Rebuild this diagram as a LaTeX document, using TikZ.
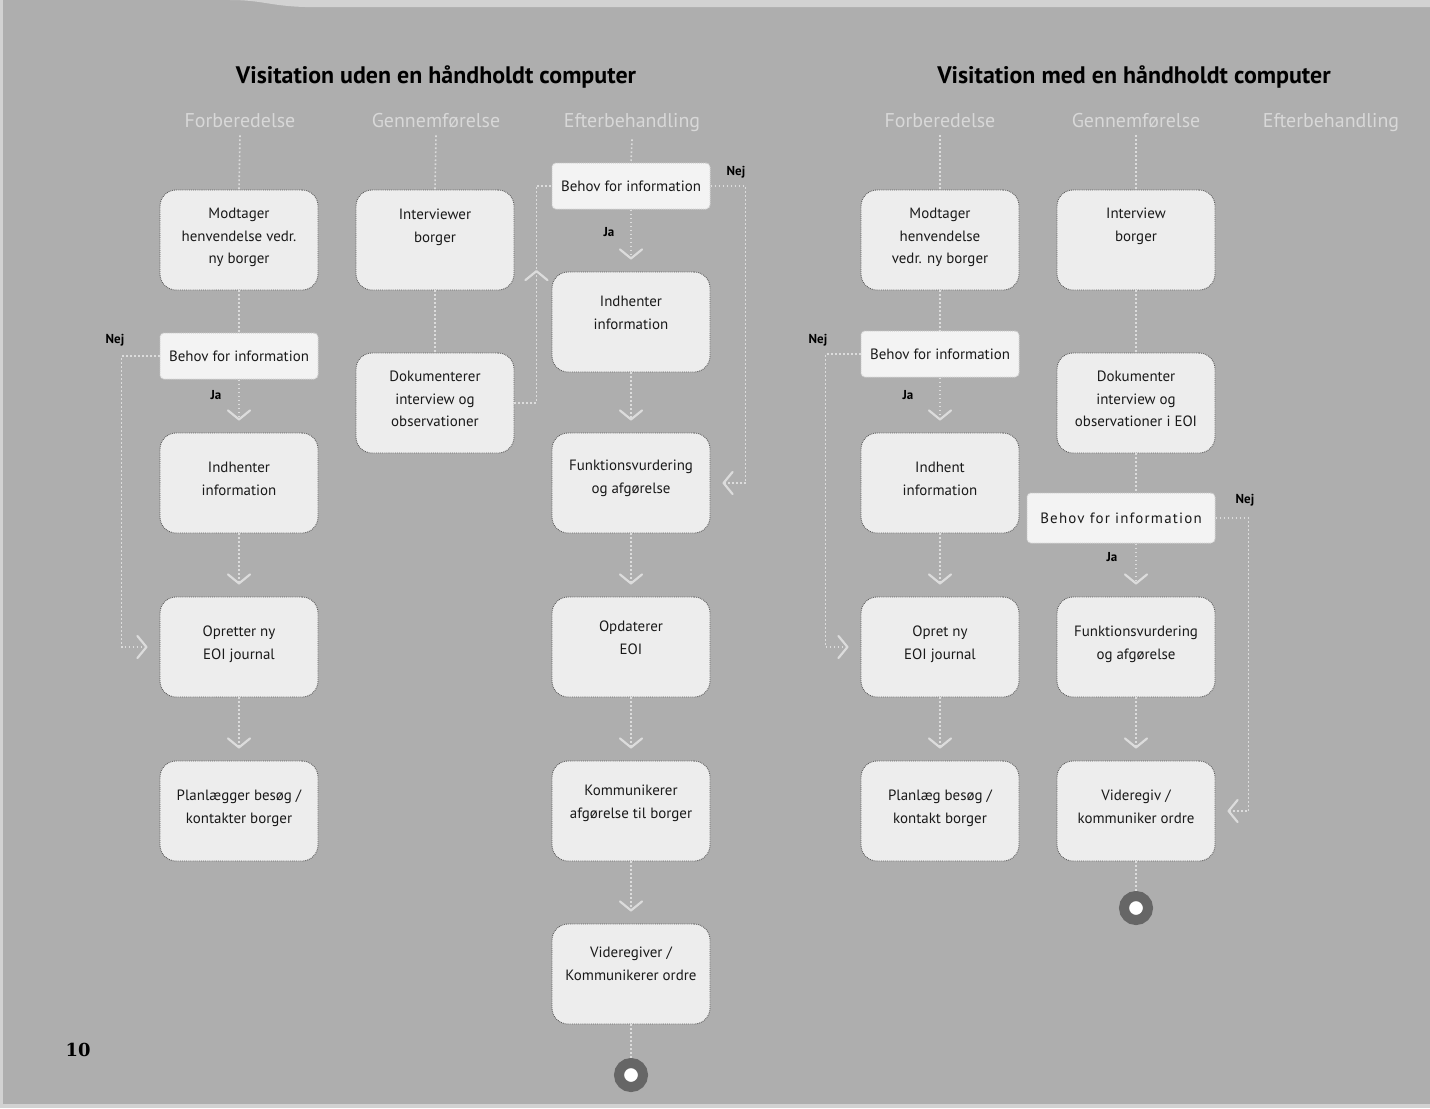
\documentclass[tikz,border=0pt]{standalone}
\usepackage{fontspec}
\setmainfont{PT Sans}
\newfontfamily\numfont{DejaVu Serif}
\usetikzlibrary{arrows.meta,decorations.markings}

\definecolor{pagebg}{HTML}{AEAEAE}
\definecolor{pageedge}{HTML}{D2D2D2}
\definecolor{boxfill}{HTML}{EDEDED}
\definecolor{boxedge}{HTML}{5E5E5E}
\definecolor{askfill}{HTML}{F3F3F3}
\definecolor{askedge}{HTML}{D0D0D0}
\definecolor{linkc}{HTML}{DCDCDC}
\definecolor{headc}{HTML}{D8D8D8}
\definecolor{ringc}{HTML}{666666}

% box text: a centred block, lifted by #1 inside its box
\newcommand\inbox[2]{\raisebox{#1}[0pt][0pt]{\begin{tabular}{@{}c@{}}#2\end{tabular}}}

\tikzset{
  act/.style={draw=boxedge, densely dotted, line width=0.9bp, fill=boxfill,
    rounded corners=16bp, minimum width=158bp, minimum height=100bp,
    inner sep=0pt, text=black!90, font=\fontsize{15}{23}\selectfont},
  ask/.style={draw=askedge, densely dotted, line width=1bp, fill=askfill,
    rounded corners=4bp, minimum width=158bp, minimum height=46bp,
    inner sep=0pt, text=black!90, font=\fontsize{15}{18}\selectfont},
  phase/.style={text=headc, font=\fontsize{20}{24}\selectfont, inner sep=0pt, anchor=base},
  heading/.style={text=black, font=\fontsize{24}{28}\selectfont\bfseries, inner sep=0pt},
  yn/.style={text=black, font=\fontsize{13}{15}\selectfont\bfseries, inner sep=0pt},
  link/.style={draw=linkc, line width=1.6bp, dash pattern=on 1.6bp off 2.4bp},
  chev/.style={-{Straight Barb[length=9bp,width=22bp,line width=2.2bp,round]}},
  linkarr/.style={link, chev, shorten >=12bp},
  midchev/.style={postaction={decorate, decoration={markings,
    mark=at position #1 with {\arrow[linkc]{Straight Barb[length=9bp,width=22bp,line width=2.2bp,round]}}}}},
  endmark/.style={circle, minimum size=24bp, inner sep=0pt, fill=white,
    draw=ringc, line width=10bp},
}

\begin{document}
\begin{tikzpicture}[x=1bp, y=-1bp]
% page
\fill[pagebg] (0,0) rectangle (1430,1108);
\useasboundingbox (0,0) rectangle (1430,1108);
\fill[pageedge] (0,0) rectangle (3,1108);
\fill[pageedge] (0,1104) rectangle (1430,1108);
\fill[pageedge] (230,0) .. controls (262,0) and (270,6) .. (305,7) -- (1430,7) -- (1430,0) -- cycle;

% ---------- without a handheld computer ----------
\node[heading] (t1) at (436,77) {Visitation uden en håndholdt computer};
\node[phase] (hF1) at (240,127) {Forberedelse};
\node[phase] (hG1) at (436,127) {Gennemførelse};
\node[phase] (hE1) at (632,127) {Efterbehandling};

\node[act] (m1)  at (239,240) {\inbox{0bp}{Modtager\\henvendelse vedr.\\ny borger}};
\node[ask] (q1)  at (239,356) {Behov for information};
\node[act] (i1)  at (239,483) {\inbox{0bp}{Indhenter\\information}};
\node[act] (o1)  at (239,647) {\inbox{0bp}{Opretter ny\\EOI journal}};
\node[act] (p1)  at (239,811) {\inbox{0bp}{Planlægger besøg /\\kontakter borger}};

\node[act] (iv1) at (435,240) {\inbox{10bp}{Interviewer\\borger}};
\node[act] (d1)  at (435,403) {\inbox{0bp}{Dokumenterer\\interview og\\observationer}};

\node[ask] (q3)  at (631,186) {Behov for information};
\node[act] (i3)  at (631,322) {\inbox{5bp}{Indhenter\\information}};
\node[act] (f3)  at (631,483) {\inbox{2bp}{Funktionsvurdering\\og afgørelse}};
\node[act] (u3)  at (631,647) {\inbox{5bp}{Opdaterer\\EOI}};
\node[act] (k3)  at (631,811) {\inbox{5bp}{Kommunikerer\\afgørelse til borger}};
\node[act] (v3)  at (631,974) {\inbox{6bp}{Videregiver /\\Kommunikerer ordre}};
\node[endmark] (e3) at (631,1075) {};

\node[yn] (nej1) at (115,340) {Nej};
\node[yn] (ja1)  at (216,395) {Ja};
\node[yn] (nej3) at (736,172) {Nej};
\node[yn] (ja3)  at (609,232) {Ja};

\draw[link] (hF1.south) ++(0,8) -- (m1.north);
\draw[link] (m1) -- (q1);
\draw[linkarr] (q1) -- (i1);
\draw[linkarr] (q1.west) -- ++(-38,0) |- (o1.west);
\draw[linkarr] (i1) -- (o1);
\draw[linkarr] (o1) -- (p1);

\draw[link] (hG1.south) ++(0,8) -- (iv1.north);
\draw[link] (iv1) -- (d1);
\draw[link, midchev=155bp] (d1.east) -- ++(22,0) |- (q3.west);

\draw[link] (hE1.south) ++(0,8) -- (q3.north);
\draw[linkarr] (q3) -- (i3);
\draw[linkarr] (q3.east) -- ++(35,0) |- (f3.east);
\draw[linkarr] (i3) -- (f3);
\draw[linkarr] (f3) -- (u3);
\draw[linkarr] (u3) -- (k3);
\draw[linkarr] (k3) -- (v3);
\draw[link] (v3) -- (e3);

% ---------- with a handheld computer ----------
\node[heading] (t2) at (1134,77) {Visitation med en håndholdt computer};
\node[phase] (hF2) at (940,127) {Forberedelse};
\node[phase] (hG2) at (1136,127) {Gennemførelse};
\node[phase] (hE2) at (1331,127) {Efterbehandling};

\node[act] (m2)  at (940,240) {\inbox{0bp}{Modtager\\henvendelse\\vedr. ny borger}};
\node[ask] (q2)  at (940,354) {Behov for information};
\node[act] (i2)  at (940,483) {\inbox{0bp}{Indhent\\information}};
\node[act] (o2)  at (940,647) {\inbox{0bp}{Opret ny\\EOI journal}};
\node[act] (p2)  at (940,811) {\inbox{0bp}{Planlæg besøg /\\kontakt borger}};

\node[act] (iv2) at (1136,240) {\inbox{11bp}{Interview\\borger}};
\node[act] (d2)  at (1136,403) {\inbox{0bp}{Dokumenter\\interview og\\observationer i EOI}};
\node[ask, minimum width=188bp, minimum height=50bp] (q4) at (1121,518)
  {\addfontfeatures{LetterSpace=8}Behov for information};
\node[act] (f4)  at (1136,647) {\inbox{0bp}{Funktionsvurdering\\og afgørelse}};
\node[act] (v4)  at (1136,811) {\inbox{0bp}{Videregiv /\\kommuniker ordre}};
\node[endmark] (e4) at (1136,908) {};

\node[yn] (nej2) at (818,340) {Nej};
\node[yn] (ja2)  at (908,395) {Ja};
\node[yn] (nej4) at (1245,500) {Nej};
\node[yn] (ja4)  at (1112,557) {Ja};

\draw[link] (hF2.south) ++(0,8) -- (m2.north);
\draw[link] (m2) -- (q2);
\draw[linkarr] (q2) -- (i2);
\draw[linkarr] (q2.west) -- ++(-35,0) |- (o2.west);
\draw[linkarr] (i2) -- (o2);
\draw[linkarr] (o2) -- (p2);

\draw[link] (hG2.south) ++(0,8) -- (iv2.north);
\draw[link] (iv2) -- (d2);
\draw[link] (d2.south) -- (d2.south |- q4.north);
\draw[linkarr] (f4.north |- q4.south) -- (f4.north);
\draw[linkarr] (q4.east) -- ++(33,0) |- (v4.east);
\draw[linkarr] (f4) -- (v4);
\draw[link] (v4) -- (e4);

% page number
\node[inner sep=0pt, font=\numfont\bfseries\fontsize{18}{20}\selectfont] (pg) at (78,1050) {10};
\end{tikzpicture}
\end{document}
